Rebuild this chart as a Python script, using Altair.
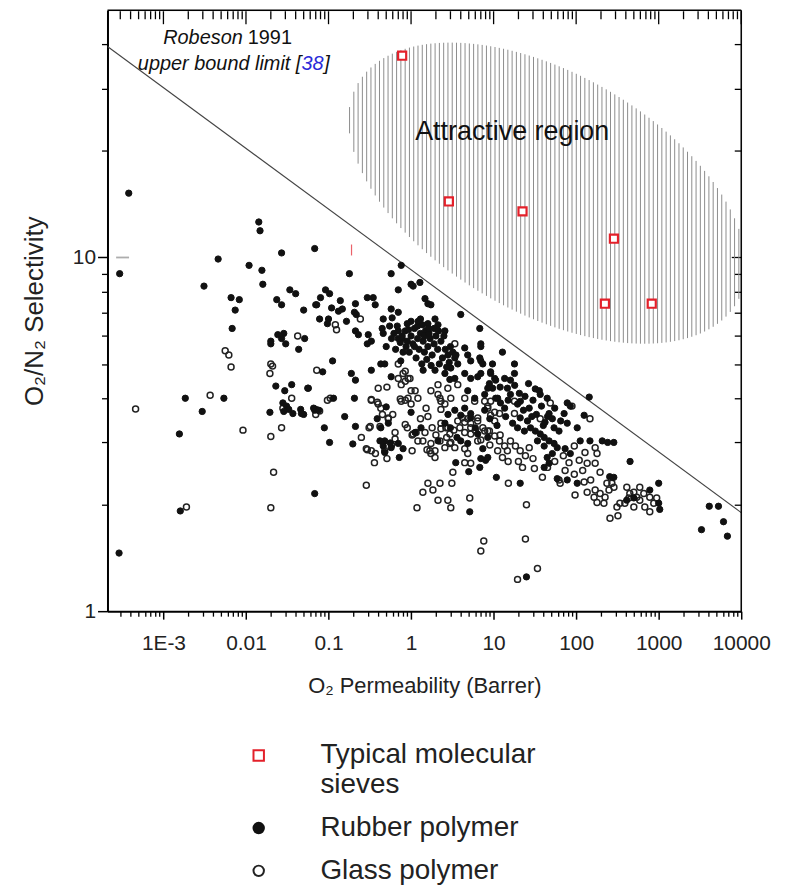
import math
import altair as alt
import numpy as np
import pandas as pd

# ---------------- data ----------------
# (O2 permeability [Barrer], O2/N2 selectivity)
rubber_points = [
    (3.8e-4, 15.2), (2.95e-4, 9.0), (2.9e-4, 1.46),
    (0.0143, 12.6), (0.0148, 11.9), (0.0046, 9.9), (0.0031, 8.3), (0.0109, 9.5),
    (0.0156, 9.2), (0.016, 8.4), (0.027, 10.3), (0.068, 10.6),
    (0.0066, 7.7), (0.0083, 7.6), (0.0074, 7.1), (0.0068, 6.3),
    (0.034, 8.1), (0.040, 7.9), (0.0236, 7.6), (0.027, 7.35), (0.050, 7.1), (0.070, 7.35),
    (0.020, 5.8), (0.0243, 6.05), (0.0287, 6.1), (0.027, 5.9), (0.0303, 5.7), (0.0514, 5.9),
    (0.0435, 5.5), (0.020, 5.7),
    (0.00184, 4.0), (0.0054, 4.0), (0.00295, 3.67), (0.00156, 3.17), (0.0016, 1.92),
    (0.0195, 3.65), (0.023, 4.33), (0.0295, 4.2), (0.0358, 4.37), (0.056, 4.27),
    (0.028, 3.88), (0.031, 3.8), (0.033, 3.72), (0.0287, 3.67), (0.037, 3.62), (0.046, 3.72),
    (0.050, 3.6), (0.068, 3.7), (0.068, 2.15), (0.047, 3.62), (0.066, 3.75), (0.076, 3.7),
    (0.179, 9.0), (0.574, 9.0), (0.76, 9.5), (0.70, 8.1), (1.0, 8.4), (1.28, 8.5), (1.06, 8.3),
    (0.092, 8.1), (0.103, 7.9), (0.080, 7.7), (0.072, 7.35), (0.109, 7.2), (0.139, 7.55),
    (0.132, 7.05), (0.147, 7.15), (0.212, 7.4), (0.217, 6.9), (0.206, 7.0), (0.295, 7.7),
    (0.348, 7.7), (0.368, 7.35), (0.46, 6.7), (0.59, 6.75), (0.70, 7.0), (0.574, 7.15),
    (0.078, 6.7), (0.10, 6.7), (0.097, 6.5), (0.165, 6.6), (0.212, 6.2), (0.23, 6.05),
    (0.303, 6.05), (0.33, 5.8), (0.295, 5.7), (0.447, 6.3), (0.46, 6.1), (0.70, 6.2),
    (0.78, 5.9), (0.74, 5.75), (0.87, 5.6), (0.112, 5.1), (0.189, 4.7), (0.212, 4.5),
    (0.33, 4.8), (0.43, 5.0), (0.48, 5.0), (0.574, 4.6), (0.085, 4.75), (0.057, 4.27),
    (0.115, 4.0), (0.206, 4.0), (0.157, 3.55), (0.212, 3.33), (0.089, 3.3), (0.103, 3.0),
    (0.197, 2.97), (0.389, 3.5), (0.43, 3.3), (0.53, 3.4), (0.48, 3.03), (0.574, 2.9),
    (0.70, 2.98), (0.42, 3.03), (0.46, 2.93), (0.56, 2.99), (0.48, 2.81), (0.80, 2.88),
    (0.72, 2.72), (0.50, 3.78), (1.0, 3.65), (1.12, 3.2), (1.32, 3.3),
    (1.74, 7.35), (1.95, 6.7), (2.12, 6.45), (2.57, 6.2), (1.475, 7.65), (1.6, 7.4),
    (4.0, 6.9), (6.8, 6.3), (7.0, 5.7), (4.47, 5.55), (4.86, 5.3), (5.28, 5.1), (6.8, 5.2),
    (7.4, 5.0), (9.2, 4.7), (10.3, 4.55), (8.9, 4.4), (3.39, 5.2), (3.68, 5.0), (3.03, 4.87),
    (2.57, 4.7), (2.95, 4.52), (3.39, 4.55), (4.47, 4.7), (5.28, 4.55), (6.42, 4.6),
    (4.86, 4.2), (5.9, 4.0), (7.8, 4.1), (9.73, 4.27), (10.6, 4.0), (3.39, 3.7), (4.0, 3.58),
    (5.28, 3.52), (7.8, 3.7), (2.57, 3.4), (2.12, 3.03), (3.48, 2.63), (5.0, 2.48), (6.8, 2.55),
    (8.0, 2.67), (4.0, 3.03), (4.86, 2.98), (4.47, 3.75), (5.28, 3.62), (6.42, 3.17),
    (7.4, 2.88), (8.5, 3.1), (5.14, 1.91), (10.8, 2.39), (7.0, 2.7), (8.5, 2.72),
    (0.62, 6.1), (0.7, 5.9), (0.78, 6.0), (0.85, 6.2), (0.9, 5.8), (1.0, 6.0), (1.05, 5.7),
    (1.1, 6.3), (1.2, 5.9), (1.25, 5.5), (1.3, 6.1), (1.4, 5.8), (1.45, 5.4), (1.5, 6.2),
    (1.6, 5.6), (1.7, 5.9), (1.8, 5.3), (1.9, 5.7), (2.0, 6.0), (2.1, 5.5), (2.3, 5.8),
    (2.4, 5.2), (2.6, 5.5), (0.95, 5.4), (1.15, 5.2), (1.35, 5.0), (1.55, 5.15), (1.75, 4.95),
    (2.2, 5.0), (0.8, 5.4), (0.65, 5.5), (1.0, 6.6), (1.3, 6.7), (1.6, 6.5), (1.9, 6.3),
    (2.5, 6.0), (1.2, 6.4), (0.9, 6.5), (1.45, 6.0), (1.1, 5.6), (1.65, 6.1), (2.8, 5.3),
    (3.0, 5.6), (2.7, 4.9), (1.95, 4.8), (1.4, 4.8), (0.75, 5.1),
    (0.55, 6.4), (0.68, 6.4), (0.93, 6.25), (1.22, 6.6), (1.38, 6.45), (1.63, 6.3),
    (2.15, 6.2), (2.9, 5.05), (3.2, 5.4), (3.5, 5.3), (0.58, 5.9), (0.5, 5.6),
    (12, 4.3), (15, 3.95), (18, 4.35), (24, 4.05), (27, 3.75), (30, 3.95), (33, 3.6),
    (38, 3.8), (45, 3.55), (55, 3.75), (65, 3.45), (14, 3.55), (17, 3.4), (23, 3.7),
    (29, 3.55), (40, 3.35), (9, 3.5), (11, 3.35), (6, 3.3), (3, 3.3), (3.6, 3.1), (2.8, 3.6),
    (7.0, 5.6), (12.8, 5.4), (7.0, 5.1), (9.7, 5.0), (17.9, 5.0), (7.0, 4.7), (9.2, 4.75),
    (10.6, 4.5), (8.5, 4.27), (13.6, 4.55), (16.0, 4.5), (17.9, 4.7), (26.5, 4.4), (32, 4.25),
    (35.8, 4.2), (36.7, 4.1), (44.6, 4.0), (14.7, 4.27), (16, 4.1), (20.5, 4.13), (21.1, 3.92),
    (19.5, 3.85), (11.2, 4.0), (12.1, 3.88), (13.6, 3.75), (78, 3.88), (85, 3.8), (144, 4.03),
    (125, 3.58), (103, 3.3), (47, 3.62), (51.5, 3.5), (42, 3.42), (54, 3.3), (62, 3.23),
    (71.5, 3.62), (78, 3.4), (21, 3.52), (25.7, 3.45), (28, 3.3), (23.6, 3.23), (19.5, 3.3),
    (32, 3.23), (36.7, 3.17), (41, 3.1), (47, 3.03), (34, 3.03), (41, 2.93), (54, 2.98),
    (51.5, 2.79), (59, 2.9), (44.6, 2.72), (47, 2.62), (41, 2.55), (73.5, 2.88), (85, 2.79),
    (112, 3.03), (147, 3.03), (207, 3.03), (241, 3.0), (286, 3.0), (450, 2.65), (255, 2.4),
    (286, 2.39), (103, 2.3), (59, 2.37), (78, 2.35), (21, 2.3), (1000, 2.3), (410, 2.06),
    (500, 2.09), (780, 2.2), (1000, 2.02), (1030, 1.94), (4100, 1.98), (5300, 1.98),
    (6100, 1.79), (3300, 1.7), (6800, 1.63), (25, 1.25),
]

glass_points = [
    (0.0423, 6.0), (0.0056, 5.45), (0.0062, 5.3), (0.0066, 4.9), (4.6e-4, 3.73), (0.00368, 4.08),
    (0.0092, 3.25), (0.020, 5.0), (0.021, 4.93), (0.0195, 4.7), (0.0358, 4.0), (0.028, 3.75),
    (0.070, 3.6), (0.027, 3.3), (0.020, 3.12), (0.0216, 2.47), (0.0019, 1.97), (0.020, 1.96),
    (0.072, 4.8), (0.121, 6.45), (0.125, 6.25), (0.243, 6.7),
    (0.097, 3.95), (0.105, 4.0), (0.33, 3.95), (0.39, 3.9), (0.43, 3.75), (0.53, 3.5),
    (0.74, 3.98), (0.85, 3.95), (0.40, 4.27), (0.51, 4.3), (0.31, 3.3), (0.85, 3.37),
    (1.03, 3.15), (1.21, 3.03), (1.39, 3.03), (0.295, 2.86), (0.33, 2.84), (0.37, 2.79),
    (0.70, 5.0), (0.80, 4.7), (0.97, 4.55), (0.85, 4.47), (1.0, 4.2), (1.21, 4.0), (1.74, 4.2),
    (2.12, 4.1), (2.3, 3.92), (1.56, 2.86), (1.74, 2.79), (2.57, 2.9), (3.39, 5.7), (3.68, 4.37),
    (2.79, 4.27), (2.12, 4.37), (2.24, 4.0), (2.57, 3.85), (3.03, 4.0), (4.47, 4.0), (5.9, 3.92),
    (9.2, 3.92), (8.5, 3.75), (10.3, 3.65), (6.42, 3.52), (4.47, 3.42), (5.28, 3.3), (2.3, 3.4),
    (2.79, 3.3), (0.85, 4.77), (0.70, 4.55), (0.92, 4.55), (0.76, 4.37), (1.12, 4.2), (0.92, 4.0),
    (0.76, 3.92), (1.0, 3.85), (0.33, 3.97), (0.40, 3.85), (0.070, 3.72), (0.078, 3.68),
    (0.32, 3.33), (0.42, 3.33), (0.53, 3.52), (0.287, 2.88), (0.36, 2.63), (0.48, 2.84),
    (0.51, 2.7), (0.64, 3.2), (0.64, 3.07), (1.06, 3.17), (1.15, 3.2), (1.03, 2.84),
    (1.475, 3.2), (1.69, 2.84), (1.95, 2.84), (1.95, 2.72), (1.52, 3.75), (2.3, 3.72),
    (2.3, 3.28), (2.64, 3.3), (2.95, 3.17), (3.03, 3.0), (1.74, 2.98), (2.24, 3.03), (2.95, 2.98),
    (3.68, 3.45), (4.23, 3.52), (4.86, 3.5), (5.28, 3.4), (6.42, 3.45), (4.47, 3.2), (5.28, 3.17),
    (6.42, 3.03), (7.8, 3.23), (3.39, 2.9), (4.47, 2.88), (4.86, 2.79), (4.47, 2.63), (5.28, 2.62),
    (3.21, 2.47), (1.6, 2.3), (2.24, 2.3), (1.84, 2.2), (1.39, 2.17), (3.12, 2.3), (2.12, 2.06),
    (2.79, 2.06), (3.03, 1.96), (1.18, 1.96), (5.14, 2.09), (0.287, 2.27),
    (9.2, 3.58), (10.3, 3.45), (8.5, 3.23), (7.8, 3.92), (8.5, 3.8), (11.8, 3.62), (17.9, 3.62),
    (17.9, 3.92), (48.6, 3.88), (89, 3.8), (147, 3.5), (36.7, 3.5),
    (7.4, 3.3), (8.9, 3.23), (10.3, 3.13), (11.8, 3.03), (13.6, 2.93), (16, 3.03), (18.4, 2.93),
    (21, 2.84), (24.3, 2.75), (11.2, 2.84), (12.8, 2.72), (14.7, 2.84), (22.4, 2.55), (31.2, 2.53),
    (39, 2.39), (15.1, 2.3), (25, 2.0),
    (95, 2.93), (128, 2.81), (109, 2.67), (136, 2.62), (170, 2.62), (170, 2.9), (179, 2.79),
    (195, 2.47), (82, 2.63), (73.5, 2.5), (95, 2.44), (62, 2.35), (64, 2.3), (125, 2.32),
    (136, 2.17), (97, 2.13), (170, 2.2), (195, 2.15), (224, 2.1), (250, 2.2), (287, 2.24),
    (271, 2.3), (236, 2.3), (165, 2.1), (179, 2.03), (217, 2.02), (312, 1.97), (339, 2.02),
    (257, 1.83), (321, 1.86), (411, 2.24), (447, 2.15), (500, 2.17), (590, 2.24), (660, 2.15),
    (780, 2.1), (872, 2.02), (946, 2.09), (590, 2.06), (679, 1.97), (780, 1.91), (500, 1.97),
    (389, 2.02), (435, 2.09), (543, 2.1),
    (0.6, 3.6), (0.9, 3.3), (1.3, 3.5), (1.8, 3.3), (1.6, 3.55), (2.0, 3.15), (2.7, 3.1),
    (3.3, 3.25), (3.9, 3.3), (6.0, 3.25), (7, 3.05), (9, 2.95), (12, 3.15), (15, 2.65),
    (20, 2.65), (27, 2.9), (30, 2.7), (45, 2.55), (55, 2.65), (70, 2.75), (120, 2.5),
    (150, 2.35), (0.25, 3.1), (0.45, 3.6), (0.58, 2.95),
    (7.6, 1.58), (7.0, 1.48), (24.3, 1.6), (34, 1.32), (19.5, 1.23),
]

sieve_points = [(0.78, 37.2), (2.87, 14.4), (22.4, 13.5), (287, 11.3), (223, 7.4), (824, 7.4)]

# two small stray marks visible in the figure
red_dash = [(0.19, 10.5)]
grey_dash = [(3.2e-4, 10.0)]

# Robeson 1991 upper bound (end points of the straight line)
robeson_perm = [2.1e-4, 1.0e4]
robeson_sel = [39.5, 1.9]

categories = ["Typical molecular sieves", "Rubber polymer", "Glass polymer"]

x_major = [1e-3, 1e-2, 0.1, 1, 10, 100, 1000, 10000]
x_major_labels = ["1E-3", "0.01", "0.1", "1", "10", "100", "1000", "10000"]
y_major = [1, 10]
y_major_labels = ["1", "10"]

X_DOMAIN = [2.1e-4, 1.0e4]
Y_DOMAIN = [1, 50]

# attractive region: ellipse (centre in data units, axes in pixels, tilt in degrees)
ell_center = (44.7, 15.2)
ell_axes_px = (220, 120)
ell_tilt = 30
hatch_step_px = 4.3

# ---------------- layout ----------------
W, H = 637, 604
FONT = "Liberation Sans"
px_per_dec_x = W / (math.log10(X_DOMAIN[1]) - math.log10(X_DOMAIN[0]))
px_per_dec_y = H / (math.log10(Y_DOMAIN[1]) - math.log10(Y_DOMAIN[0]))

x_minor = [m * 10.0 ** e for e in range(-4, 4) for m in range(2, 10)
           if X_DOMAIN[0] <= m * 10.0 ** e <= X_DOMAIN[1]]
y_minor = [2, 3, 4, 5, 6, 7, 8, 9, 20, 30, 40]

X_SCALE = alt.Scale(type="log", domain=X_DOMAIN, nice=False)
Y_SCALE = alt.Scale(type="log", domain=Y_DOMAIN, nice=False)


def label_expr(vals, labs):
    parts = [f"abs(datum.value - {v}) < {v * 0.01} ? '{l}' : " for v, l in zip(vals, labs)]
    return "".join(parts) + "''"


def tick_axis(values, orient, size, inward=False):
    # inward ticks on the right frame: shift the axis inside by the tick length
    return alt.Axis(values=values, orient=orient, offset=-size if inward else 0, tickSize=size,
                    tickWidth=1.3, tickColor="black", labels=False, domain=False,
                    grid=False, title=None)


x_axis_main = alt.Axis(values=x_major, orient="bottom", tickSize=8, tickWidth=1.5,
                       tickColor="black", domain=True, domainColor="black", domainWidth=2,
                       labelExpr=label_expr(x_major, x_major_labels), labelFont=FONT,
                       labelFontSize=21, labelColor="#222222", labelPadding=14,
                       labelOverlap=False, labelFlush=False, grid=False,
                       title="O₂ Permeability (Barrer)", titleFont=FONT, titleFontSize=22,
                       titleFontWeight="normal", titleColor="#222222", titlePadding=22)
y_axis_main = alt.Axis(values=y_major, orient="left", tickSize=10, tickWidth=1.5,
                       tickColor="black", domain=True, domainColor="black", domainWidth=2,
                       labelExpr=label_expr(y_major, y_major_labels), labelFont=FONT,
                       labelFontSize=21, labelColor="#222222", labelPadding=2,
                       labelOverlap=False, labelFlush=False, grid=False,
                       title="O₂/N₂ Selectivity", titleFont=FONT, titleFontSize=26,
                       titleFontWeight="normal", titleColor="#222222", titlePadding=25)

# ---------------- data frames ----------------
def frame(pts, cat):
    return pd.DataFrame({"perm": [p for p, _ in pts], "sel": [v for _, v in pts], "kind": cat})


glass_df = frame(glass_points, "Glass polymer")
rubber_df = frame(rubber_points, "Rubber polymer")
sieve_df = frame(sieve_points, "Typical molecular sieves")

line_df = pd.DataFrame({"perm": robeson_perm, "sel": robeson_sel})

# hatch lines of the tilted ellipse
a, b = ell_axes_px
th = math.radians(ell_tilt)
c, s = math.cos(th), math.sin(th)
A = s * s / a ** 2 + c * c / b ** 2
x_ext = math.sqrt(a * a * c * c + b * b * s * s)
uc, vc = math.log10(ell_center[0]), math.log10(ell_center[1])
hatch_rows = []
for dx in np.arange(-x_ext + 1, x_ext, hatch_step_px):
    B = 2 * dx * s * c * (1 / a ** 2 - 1 / b ** 2)
    C = dx * dx * (c * c / a ** 2 + s * s / b ** 2) - 1
    disc = B * B - 4 * A * C
    if disc <= 0:
        continue
    dy1 = (-B - math.sqrt(disc)) / (2 * A)
    dy2 = (-B + math.sqrt(disc)) / (2 * A)
    u = uc + dx / px_per_dec_x
    if u > math.log10(X_DOMAIN[1]):
        continue
    hatch_rows.append({"p": 10 ** u, "s1": 10 ** (vc - dy1 / px_per_dec_y),
                       "s2": 10 ** (vc - dy2 / px_per_dec_y)})
hatch_df = pd.DataFrame(hatch_rows)

texts_df = pd.DataFrame({"perm": [16.8], "sel": [22.7], "t": ["Attractive region"]})
one_row = pd.DataFrame({"k": [0]})

# ---------------- layers ----------------
hatch = alt.Chart(hatch_df).mark_rule(color="#8c8c8c", strokeWidth=1, clip=True).encode(
    x=alt.X("p:Q", scale=X_SCALE, axis=tick_axis(x_minor, "bottom", 5)),
    y=alt.Y("s1:Q", scale=Y_SCALE, axis=tick_axis(y_minor, "left", 6)),
    y2="s2:Q",
)

robeson = alt.Chart(line_df).mark_line(color="#444444", strokeWidth=1.1, clip=True).encode(
    x=alt.X("perm:Q", scale=X_SCALE, axis=None),
    y=alt.Y("sel:Q", scale=Y_SCALE, axis=tick_axis(y_major, "right", 10, inward=True)),
)

attractive = alt.Chart(texts_df).mark_text(font=FONT, fontSize=27, color="#111111").encode(
    x=alt.X("perm:Q", scale=X_SCALE, axis=None),
    y=alt.Y("sel:Q", scale=Y_SCALE, axis=tick_axis(y_minor, "right", 7, inward=True)),
    text="t:N",
)

# frame lines on the top and right edges
frame_top = alt.Chart(one_row).mark_rule(color="black", strokeWidth=1.5).encode(
    x=alt.value(0), x2=alt.value(W), y=alt.value(0))
frame_right = alt.Chart(one_row).mark_rule(color="black", strokeWidth=1.5).encode(
    x=alt.value(W), y=alt.value(0), y2=alt.value(H))

# inward ticks along the top frame, placed by the x scale from the tick-value lists
top_major = alt.Chart(pd.DataFrame({"tv": x_major})).mark_rule(color="black", strokeWidth=1.3).encode(
    x=alt.X("tv:Q", scale=X_SCALE, axis=None), y=alt.value(1), y2=alt.value(14))
top_minor = alt.Chart(pd.DataFrame({"tm": x_minor})).mark_rule(color="black", strokeWidth=1.3).encode(
    x=alt.X("tm:Q", scale=X_SCALE, axis=None), y=alt.value(1), y2=alt.value(9))

stray_red = alt.Chart(pd.DataFrame({"perm": [p for p, _ in red_dash], "sel": [v for _, v in red_dash]})).mark_tick(
    orient="vertical", color="#e3202a", thickness=1.2, size=11).encode(
    x=alt.X("perm:Q", scale=X_SCALE, axis=None), y=alt.Y("sel:Q", scale=Y_SCALE, axis=None))
stray_grey = alt.Chart(pd.DataFrame({"perm": [p for p, _ in grey_dash], "sel": [v for _, v in grey_dash]})).mark_tick(
    orient="horizontal", color="#8a8a8a", thickness=1.8, size=13).encode(
    x=alt.X("perm:Q", scale=X_SCALE, axis=None), y=alt.Y("sel:Q", scale=Y_SCALE, axis=None))

LEG = dict(orient="none", legendX=138, legendY=735, title=None,
           labelFont=FONT, labelFontSize=28, labelColor="#222222",
           labelExpr="datum.label == 'Typical molecular sieves' ? ['Typical molecular', 'sieves'] : datum.label",
           labelLimit=400, labelOffset=48, symbolSize=110, symbolStrokeWidth=2,
           rowPadding=15)

SHAPE_SCALE = alt.Scale(domain=categories, range=["square", "circle", "circle"])
FILL_SCALE = alt.Scale(domain=categories, range=["white", "#111111", "transparent"])
STROKE_SCALE = alt.Scale(domain=categories, range=["#e3202a", "#111111", "#222222"])


def point_layer(df, size, sw, main_axes=False):
    return alt.Chart(df).mark_point(opacity=1, size=size, strokeWidth=sw).encode(
        x=alt.X("perm:Q", scale=X_SCALE, axis=x_axis_main if main_axes else None),
        y=alt.Y("sel:Q", scale=Y_SCALE, axis=y_axis_main if main_axes else None),
        shape=alt.Shape("kind:N", scale=SHAPE_SCALE, legend=alt.Legend(**LEG)),
        fill=alt.Fill("kind:N", scale=FILL_SCALE, legend=alt.Legend(**LEG)),
        stroke=alt.Stroke("kind:N", scale=STROKE_SCALE, legend=alt.Legend(**LEG)),
    )


glass_layer = point_layer(glass_df, 36, 1.5, main_axes=True)
rubber_layer = point_layer(rubber_df, 40, 1.0)
sieve_layer = point_layer(sieve_df, 66, 2.2)

# Robeson annotation (anchors in data units)
rob_df = pd.DataFrame({
    "perm": [0.00966, 0.00966, 0.0469, 0.0469, 0.0469],
    "sel": [41.7, 41.7, 35.2, 35.2, 35.2],
    "t": ["Robeson", "1991", "upper bound limit [", "38", "]"],
})


def rob_text(i, align, dx, italic, color="#111111"):
    return alt.Chart(rob_df.iloc[[i]]).mark_text(
        font=FONT, fontSize=20, align=align, dx=dx, baseline="middle",
        fontStyle="italic" if italic else "normal", color=color,
    ).encode(x=alt.X("perm:Q", scale=X_SCALE, axis=None),
             y=alt.Y("sel:Q", scale=Y_SCALE, axis=None), text="t:N")


rob_layers = [
    rob_text(0, "right", -2, True),
    rob_text(1, "left", 3, False),
    rob_text(2, "right", 0, True),
    rob_text(3, "left", 0, True, "#2a2ad8"),
    rob_text(4, "left", 23, True),
]

chart = alt.layer(hatch, robeson, attractive, frame_top, frame_right,
                  stray_grey, stray_red, glass_layer, rubber_layer, sieve_layer,
                  *rob_layers, top_major, top_minor).resolve_axis(
    x="independent", y="independent"
).properties(
    width=W, height=H,
    autosize=alt.AutoSizeParams(type="none"),
    padding={"left": 100, "top": 0, "right": 45, "bottom": 282},
).configure(background="white")

chart.save("out.html", embed_options={"renderer": "svg", "actions": False})
